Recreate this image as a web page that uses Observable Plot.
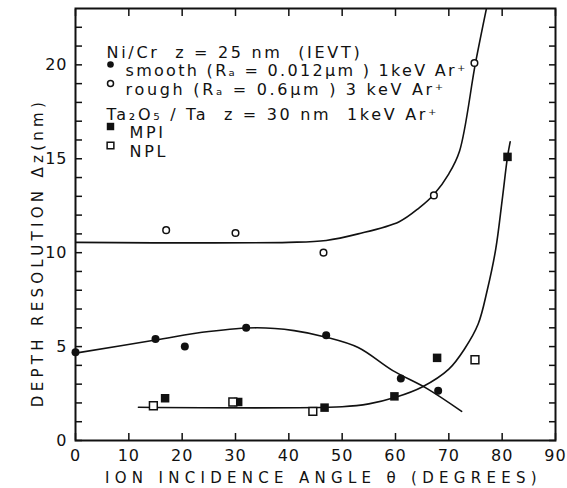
<!DOCTYPE html>
<html>
<head>
<meta charset="utf-8">
<script src="https://cdn.jsdelivr.net/npm/d3@7"></script>
<script src="https://cdn.jsdelivr.net/npm/@observablehq/plot@0.6"></script>
<style>
  body { margin: 0; background: #fff; }
</style>
</head>
<body>
<div id="chart"></div>
<script>
// Ni/Cr multilayer, z = 25 nm: smooth substrate (1 keV Ar+)
const smoothAngle = [0, 15, 20.5, 32, 47, 61, 68];
const smoothDz    = [4.7, 5.4, 5.0, 6.0, 5.6, 3.3, 2.65];
// Ni/Cr multilayer: rough substrate (3 keV Ar+)
const roughAngle = [17, 30, 46.5, 67.2, 74.8];
const roughDz    = [11.2, 11.05, 10.0, 13.05, 20.1];
// Ta2O5/Ta, z = 30 nm, 1 keV Ar+ : MPI
const mpiAngle = [16.8, 30.5, 46.7, 59.8, 67.8, 81];
const mpiDz    = [2.25, 2.05, 1.75, 2.35, 4.4, 15.1];
// Ta2O5/Ta : NPL
const nplAngle = [14.6, 29.5, 44.5, 74.9];
const nplDz    = [1.85, 2.05, 1.55, 4.3];

// hand-drawn trend curves
const smoothFitAngle = [0, 15, 25, 34, 41, 47, 53, 59.5, 66, 72.4];
const smoothFitDz    = [4.65, 5.35, 5.8, 6.0, 5.85, 5.5, 4.95, 3.72, 2.75, 1.55];
const roughFitAngle = [0, 40, 47, 53, 60.7, 64.5, 67.2, 70, 72, 75, 77.2];
const roughFitDz    = [10.55, 10.55, 10.65, 11.0, 11.65, 12.4, 13.1, 14.2, 15.4, 20.1, 23.2];
const taFitAngle = [11.8, 50, 55, 60, 65, 70, 73, 75.5, 77.2, 78.8, 80, 81, 81.5];
const taFitDz    = [1.77, 1.8, 1.95, 2.3, 2.85, 3.8, 4.9, 6.2, 8.0, 10.2, 12.8, 15.1, 15.9];

// axes
const xTicks = [0, 10, 20, 30, 40, 50, 60, 70, 80, 90];
const yLabelTicks = [0, 5, 10, 15, 20];
const yMinorTicks = d3.range(0, 23, 1);
const xTitle = "ION INCIDENCE ANGLE \u03B8 (DEGREES)";
const yTitle = "DEPTH RESOLUTION \u0394z(nm)";

// key
const keyNiCr = "Ni/Cr  z = 25 nm  (IEVT)";
const keySmooth = "smooth (R\u2090 = 0.012\u03BCm ) 1keV Ar\u207A";
const keyRough = "rough (R\u2090 = 0.6\u03BCm ) 3 keV Ar\u207A";
const keyTa = "Ta\u2082O\u2085 / Ta  z = 30 nm  1keV Ar\u207A";
const keyMpi = "MPI";
const keyNpl = "NPL";

const pts = (xs, ys) => xs.map((x, i) => ({x, y: ys[i]}));

const lineOpts = {x: "x", y: "y", curve: "catmull-rom", stroke: "#111", strokeWidth: 1.6, clip: true};
const keyText = (t, dx, dy) => Plot.text([t], {frameAnchor: "top-left", dx, dy, text: d => d, textAnchor: "start", fontSize: 16, fill: "#111"});

const chart = Plot.plot({
  width: 567,
  height: 488,
  marginLeft: 75,
  marginRight: 12,
  marginTop: 8,
  marginBottom: 48,
  x: {domain: [0, 90]},
  y: {domain: [0, 23]},
  style: {fontFamily: "DejaVu Sans, sans-serif", fontSize: "16px", color: "#111", background: "#fff"},
  marks: [
    // inward ticks on all four sides
    Plot.axisX(xTicks, {anchor: "bottom", tickSize: -7, tickFormat: () => "", label: null, strokeWidth: 1.5}),
    Plot.axisX(xTicks, {anchor: "top", tickSize: -7, tickFormat: () => "", label: null, strokeWidth: 1.5}),
    Plot.axisY(yMinorTicks, {anchor: "left", tickSize: -7, tickFormat: () => "", label: null, strokeWidth: 1.5}),
    Plot.axisY(yMinorTicks, {anchor: "right", tickSize: -7, tickFormat: () => "", label: null, strokeWidth: 1.5}),
    Plot.axisX(xTicks, {anchor: "bottom", tickSize: 0, tickPadding: 9, label: null}),
    Plot.axisY(yLabelTicks, {anchor: "left", tickSize: 0, tickPadding: 8, label: null}),
    Plot.frame({stroke: "#111", strokeWidth: 2}),

    // trend curves
    Plot.line(pts(roughFitAngle, roughFitDz), lineOpts),
    Plot.line(pts(smoothFitAngle, smoothFitDz), lineOpts),
    Plot.line(pts(taFitAngle, taFitDz), lineOpts),

    // measurements
    Plot.dot(pts(smoothAngle, smoothDz), {x: "x", y: "y", r: 4, fill: "#111"}),
    Plot.dot(pts(roughAngle, roughDz), {x: "x", y: "y", r: 3.3, fill: "#fff", stroke: "#111", strokeWidth: 1.5}),
    Plot.dot(pts(mpiAngle, mpiDz), {x: "x", y: "y", symbol: "square", r: 4.8, fill: "#111"}),
    Plot.dot(pts(nplAngle, nplDz), {x: "x", y: "y", symbol: "square", r: 4.4, fill: "#fff", stroke: "#111", strokeWidth: 1.5}),

    // key
    keyText(keyNiCr, 31, 38),
    Plot.dot([0], {frameAnchor: "top-left", dx: 35, dy: 56, r: 3.3, fill: "#111"}),
    keyText(keySmooth, 50, 56),
    Plot.dot([0], {frameAnchor: "top-left", dx: 35, dy: 75, r: 3, fill: "#fff", stroke: "#111", strokeWidth: 1.5}),
    keyText(keyRough, 50, 75),
    keyText(keyTa, 31, 100),
    Plot.dot([0], {frameAnchor: "top-left", dx: 35, dy: 118, symbol: "square", r: 4.2, fill: "#111"}),
    keyText(keyMpi, 54, 118),
    Plot.dot([0], {frameAnchor: "top-left", dx: 35, dy: 137, symbol: "square", r: 3.8, fill: "#fff", stroke: "#111", strokeWidth: 1.5}),
    keyText(keyNpl, 54, 137),

    // axis titles
    Plot.text([xTitle], {frameAnchor: "bottom", dx: 8, dy: 38, text: d => d, textAnchor: "middle", lineAnchor: "middle", fontSize: 15, fill: "#111"}),
    Plot.text([yTitle], {frameAnchor: "left", dx: -37, dy: 28, rotate: -90, text: d => d, textAnchor: "middle", fontSize: 15, fill: "#111"})
  ]
});

// lettering spacing for the titles and key
d3.select(chart).selectAll("text").each(function () {
  const t = this.textContent;
  if (t === xTitle) this.setAttribute("letter-spacing", "5.3");
  else if (t === yTitle) this.setAttribute("letter-spacing", "4.3");
  else if (t === keySmooth) this.setAttribute("letter-spacing", "2.3");
  else if ([keyNiCr, keyRough, keyTa, keyMpi, keyNpl].includes(t)) this.setAttribute("letter-spacing", "2.7");
  else if (/^\d+$/.test(t)) this.setAttribute("letter-spacing", "1");
});

document.getElementById("chart").append(chart);
</script>
</body>
</html>
